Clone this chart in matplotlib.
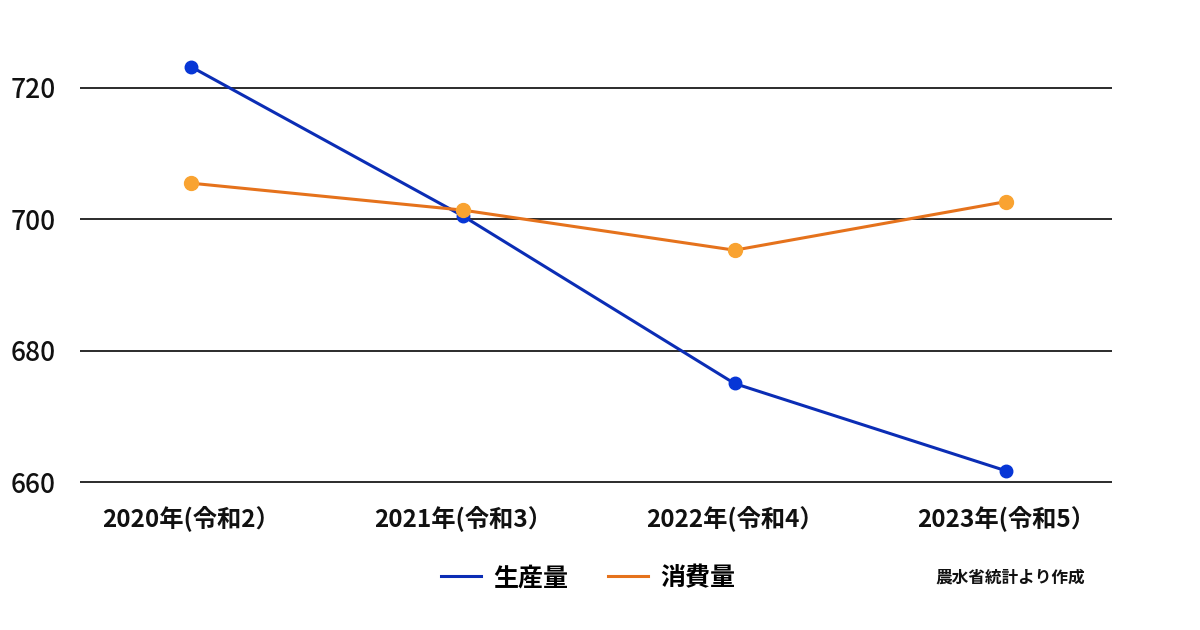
import matplotlib
matplotlib.use("Agg")
import matplotlib.pyplot as plt
from matplotlib.lines import Line2D

plt.rcParams['font.family'] = ['Noto Sans CJK JP', 'DejaVu Sans']

# data
years = ["2020年(令和2）", "2021年(令和3）", "2022年(令和4）", "2023年(令和5）"]
production = [723.2, 700.5, 675.0, 661.7]
consumption = [705.5, 701.4, 695.3, 702.7]
y_ticks = [660, 680, 700, 720]

blue = "#0b2db5"
blue_mk = "#0736d6"
orange = "#e5721c"
orange_mk = "#f9a331"

fig = plt.figure(figsize=(12, 6.3), dpi=100)
ax = fig.add_axes([0.0667, 0.2297, 0.86, 0.6932])

x = list(range(len(years)))
ax.plot(x, production, color=blue, lw=2.2, marker="o", ms=9,
        mfc=blue_mk, mec=blue_mk, zorder=3)
ax.plot(x, consumption, color=orange, lw=2.2, marker="o", ms=10,
        mfc=orange_mk, mec=orange_mk, zorder=3)

ax.set_xlim(-0.41, 3.39)
ax.set_ylim(659.5, 726)
ax.set_yticks(y_ticks)
ax.set_yticklabels([str(v) for v in y_ticks], fontsize=19, color="#111",
                   fontweight="medium")
ax.set_xticks(x)
ax.set_xticklabels(years, fontsize=17.5, fontweight="bold", color="#111")
ax.tick_params(axis="x", length=0, pad=14)
for t in ax.get_yticklabels():
    t.set_horizontalalignment("left")
# left edge of y labels sits ~70px left of the axes
ax.tick_params(axis="y", length=0, pad=50)

for v in y_ticks:
    ax.axhline(v, color="#1a1a1a", lw=1.3, zorder=1)
for s in ax.spines.values():
    s.set_visible(False)

handles = [Line2D([], [], color=blue, lw=2.2),
           Line2D([], [], color=orange, lw=2.2)]
fig.legend(handles, ["生産量", "消費量"], loc="center",
           bbox_to_anchor=(0.49, 1 - 578 / 630), ncol=2, frameon=False,
           prop={"size": 18, "weight": "bold"}, handlelength=1.6,
           handletextpad=0.5, columnspacing=1.6)
fig.text(935 / 1200, 1 - 578 / 630, "農水省統計より作成", fontsize=12,
         fontweight="bold", va="center", ha="left", color="#111")

fig.savefig("out.png", dpi=100, facecolor="white")
